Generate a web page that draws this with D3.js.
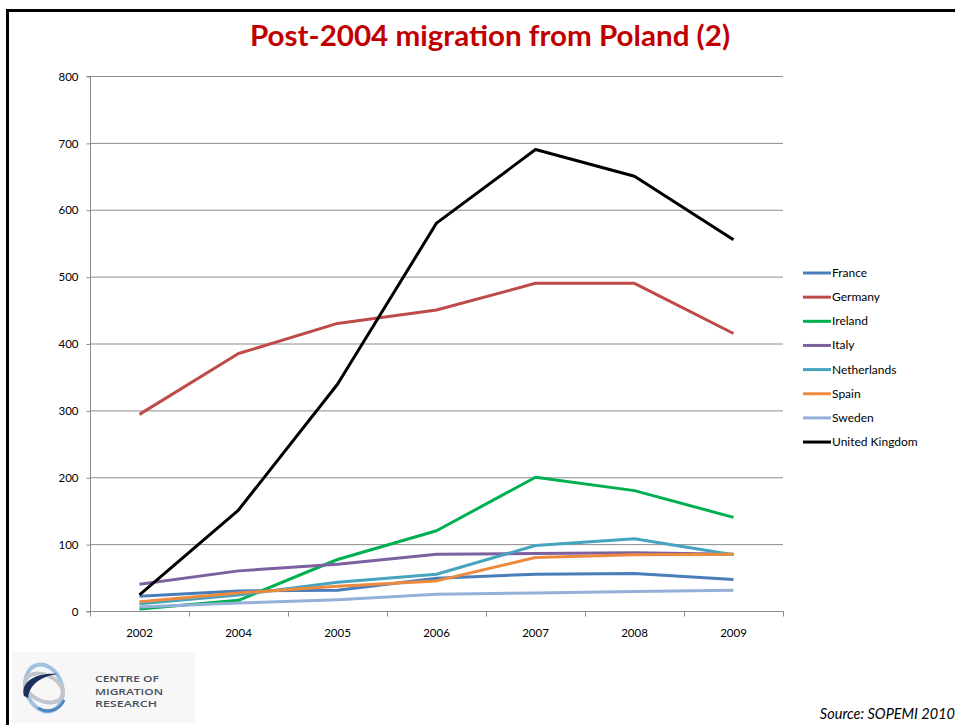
<!DOCTYPE html>
<html>
<head>
<meta charset="utf-8">
<script src="https://cdn.jsdelivr.net/npm/d3@7"></script>
<style>
  html, body { margin: 0; padding: 0; background: #fff; }
  svg { display: block; }
</style>
</head>
<body>
<svg id="chart" width="955" height="725"></svg>
<script>
// Inflows of Polish migrants by destination country (thousands)
const years = ["2002", "2004", "2005", "2006", "2007", "2008", "2009"];
const countries = ["France", "Germany", "Ireland", "Italy", "Netherlands", "Spain", "Sweden", "United Kingdom"];
const france      = [22, 30, 31, 49, 55, 56, 47];
const germany     = [294, 385, 430, 450, 490, 490, 415];
const ireland     = [3, 16, 77, 120, 200, 180, 140];
const italy       = [40, 60, 70, 85, 86, 87, 85];
const netherlands = [11, 24, 43, 55, 98, 108, 84];
const spain       = [14, 27, 37, 45, 80, 84, 85];
const sweden      = [6, 12, 17, 25, 27, 29, 31];
const uk          = [24, 151, 339, 580, 690, 650, 555];
const yTicks = [0, 100, 200, 300, 400, 500, 600, 700, 800];
const colors = ["#4A7EBB", "#BE4B48", "#00B050", "#7D60A0", "#46A4BE", "#EE8A3E", "#95B0D8", "#000000"];

const seriesValues = [france, germany, ireland, italy, netherlands, spain, sweden, uk];
const series = countries.map((name, i) => ({ name, values: seriesValues[i], color: colors[i] }));

const svg = d3.select("#chart");
const font = "Lato, 'Open Sans', sans-serif";

// slide frame
svg.append("path")
  .attr("d", "M7.5,725 V10.5 H955")
  .attr("fill", "none").attr("stroke", "#000").attr("stroke-width", 3);

// title
svg.append("text")
  .attr("x", 490).attr("y", 46)
  .attr("text-anchor", "middle")
  .attr("font-family", font).attr("font-weight", "bold")
  .attr("font-size", 29).attr("fill", "#C00000")
  .attr("textLength", 480).attr("lengthAdjust", "spacingAndGlyphs")
  .text("Post-2004 migration from Poland (2)");

const plot = { left: 90, right: 783, top: 76, bottom: 611 };

const x = d3.scaleBand().domain(years).range([plot.left, plot.right]);
const y = d3.scaleLinear().domain([0, 800]).range([plot.bottom, plot.top]);

// horizontal gridlines
svg.append("g")
  .selectAll("line").data(yTicks.filter(d => d > 0)).join("line")
  .attr("x1", plot.left).attr("x2", plot.right)
  .attr("y1", d => y(d) + 0.5).attr("y2", d => y(d) + 0.5)
  .attr("stroke", "#8c8c8c").attr("stroke-width", 1);

// y axis
const yAxis = svg.append("g")
  .attr("transform", `translate(${plot.left + 0.5},0.5)`)
  .call(d3.axisLeft(y).tickValues(yTicks).tickSize(4).tickPadding(8));
yAxis.select(".domain").attr("stroke", "#8c8c8c").attr("d", `M-4,${plot.bottom}H0V${plot.top}H-4`);
yAxis.selectAll(".tick line").attr("stroke", "#8c8c8c");
yAxis.selectAll(".tick text")
  .attr("font-family", font).attr("font-size", 11.5).attr("fill", "#000");

// x axis with ticks on band boundaries
const xAxisG = svg.append("g").attr("transform", `translate(0,${plot.bottom + 0.5})`);
xAxisG.append("line")
  .attr("x1", plot.left).attr("x2", plot.right + 0.5)
  .attr("stroke", "#8c8c8c");
const boundaries = years.map(d => x(d)).concat([plot.right]);
xAxisG.selectAll("line.tk").data(boundaries).join("line").attr("class", "tk")
  .attr("x1", d => Math.round(d) + 0.5).attr("x2", d => Math.round(d) + 0.5)
  .attr("y1", 0).attr("y2", 5)
  .attr("stroke", "#8c8c8c");
xAxisG.selectAll("text").data(years).join("text")
  .attr("x", d => x(d) + x.bandwidth() / 2)
  .attr("y", 25)
  .attr("text-anchor", "middle")
  .attr("font-family", font).attr("font-size", 11.5).attr("fill", "#000")
  .text(d => d);

// series lines
const line = d3.line()
  .x((d, i) => x(years[i]) + x.bandwidth() / 2)
  .y(d => y(d));

svg.append("g")
  .selectAll("path").data(series).join("path")
  .attr("d", d => line(d.values))
  .attr("fill", "none")
  .attr("stroke", d => d.color)
  .attr("stroke-width", 3)
  .attr("stroke-linejoin", "round");

// legend
const legend = svg.append("g").attr("transform", "translate(803,273)");
const rows = legend.selectAll("g").data(series).join("g")
  .attr("transform", (d, i) => `translate(0,${i * 24.15})`);
rows.append("line")
  .attr("x1", 0).attr("x2", 28)
  .attr("stroke", d => d.color).attr("stroke-width", 3);
rows.append("text")
  .attr("x", 29).attr("y", 4)
  .attr("font-family", font).attr("font-size", 12).attr("fill", "#000")
  .text(d => d.name);

// source note
svg.append("text")
  .attr("x", 955).attr("y", 719)
  .attr("text-anchor", "end")
  .attr("font-family", font).attr("font-style", "italic")
  .attr("font-size", 14.5).attr("fill", "#000")
  .text("Source: SOPEMI 2010");

// organisation logo
const logo = svg.append("g");
logo.append("rect").attr("x", 12).attr("y", 652).attr("width", 183).attr("height", 71).attr("fill", "#f7f7f8");
const mark = logo.append("g").attr("transform", "translate(44,688)");
mark.append("ellipse").attr("rx", 18).attr("ry", 24).attr("transform", "rotate(-20)")
  .attr("fill", "none").attr("stroke", "#9fc0df").attr("stroke-width", 4);
mark.append("ellipse").attr("rx", 20).attr("ry", 13).attr("transform", "rotate(25)")
  .attr("fill", "none").attr("stroke", "#c2c6cc").attr("stroke-width", 4);
mark.append("path")
  .attr("d", "M-20,8 C-24,-6 -8,-16 14,-14 C0,-12 -14,-6 -16,10 Z")
  .attr("fill", "#1d2f5c");
mark.append("path")
  .attr("d", "M-6,20 C4,26 16,22 20,12")
  .attr("fill", "none").attr("stroke", "#4f86c4").attr("stroke-width", 3);
const logoWidths = { "CENTRE OF": 64, "MIGRATION": 68, "RESEARCH": 62 };
["CENTRE OF", "MIGRATION", "RESEARCH"].forEach((t, i) => {
  logo.append("text")
    .attr("x", 95).attr("y", 682 + i * 12.5)
    .attr("font-family", "'Open Sans', sans-serif").attr("font-weight", 600)
    .attr("font-size", 9).attr("fill", "#45505c")
    .attr("textLength", logoWidths[t])
    .attr("lengthAdjust", "spacingAndGlyphs")
    .text(t);
});
</script>
</body>
</html>
